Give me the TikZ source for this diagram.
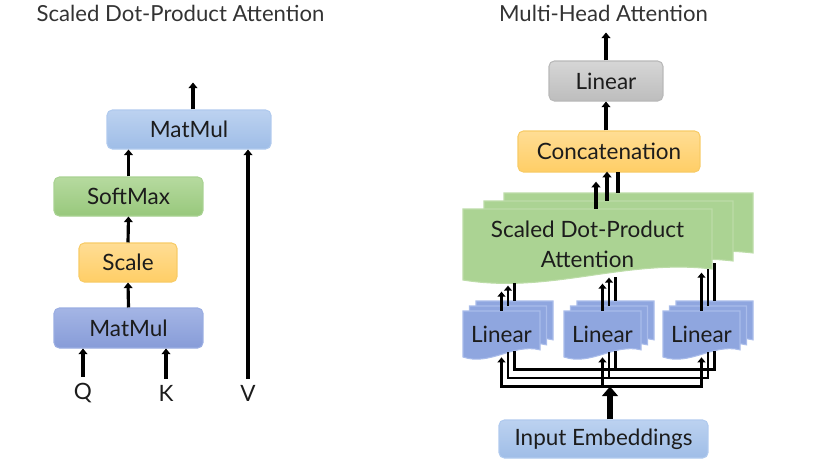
\documentclass[tikz,border=0pt]{standalone}
\usepackage{fontspec}
\setmainfont{Lato}
\usepackage{xcolor}
\usepackage{tikz}
\usetikzlibrary{arrows.meta,calc}
\definecolor{mblueT}{HTML}{BCD2F0}
\definecolor{mblueB}{HTML}{9FBDE7}
\definecolor{mblueD}{HTML}{B0CAEE}
\definecolor{sgreenT}{HTML}{B6DA9F}
\definecolor{sgreenB}{HTML}{98C87C}
\definecolor{sgreenD}{HTML}{A9D292}
\definecolor{syellowT}{HTML}{FFDD94}
\definecolor{syellowB}{HTML}{FFCE66}
\definecolor{syellowD}{HTML}{F8CB66}
\definecolor{mpurpleT}{HTML}{A4B5E5}
\definecolor{mpurpleB}{HTML}{879CD8}
\definecolor{mpurpleD}{HTML}{9AADE2}
\definecolor{lgrayT}{HTML}{D6D6D6}
\definecolor{lgrayB}{HTML}{BDBDBD}
\definecolor{lgrayD}{HTML}{B8B8B8}
\definecolor{stackblue}{HTML}{8FA6DF}
\definecolor{stackblueD}{HTML}{A9BCEA}
\definecolor{stackgreen}{HTML}{ABD393}
\definecolor{stackgreenD}{HTML}{BCDCA8}
\definecolor{inkdark}{HTML}{1C1C1C}
\newcommand{\boxfont}{\fontsize{12.8}{17}\selectfont}
\newcommand{\titlefont}{\fontsize{12.6}{14}\selectfont}
% sheet with a wavy lower edge: x, y, width, height, style
\newcommand{\wavesheet}[5]{%
  \pgfmathsetmacro\sxr{#1+#3}\pgfmathsetmacro\syb{#2+#4}%
  \pgfmathsetmacro\syr{#2+0.845*#4}%
  \pgfmathsetmacro\scax{#1+0.65*#3}\pgfmathsetmacro\scay{#2+0.7*#4}%
  \pgfmathsetmacro\scbx{#1+0.35*#3}\pgfmathsetmacro\scby{#2+1.2*#4}%
  \filldraw[#5] (#1,#2) -- (\sxr,#2) -- (\sxr,\syr) .. controls (\scax,\scay) and (\scbx,\scby) .. (#1,\syb) -- cycle;}

\begin{document}
\begin{tikzpicture}[x=0.02cm, y=-0.02cm,
    box/.style={rectangle, rounded corners=3pt, line width=0.6pt, minimum height=0.78cm, font=\boxfont, text=inkdark},
    ttl/.style={font=\titlefont, text=inkdark!90},
    lbl/.style={font=\boxfont, text=inkdark},
    sheettxt/.style={inner sep=0pt, align=center, font=\boxfont, text=inkdark},
    greensheet/.style={fill=stackgreen, draw=stackgreenD, line width=0.6pt},
    bluesheet/.style={fill=stackblue, draw=stackblueD, line width=0.6pt},
    arr/.style={-{Triangle[length=3.2pt,width=5pt]}, line width=1.8pt},
    thinarr/.style={-{Triangle[length=2.8pt,width=4.4pt]}, line width=1.4pt},
    bus/.style={line width=1.4pt},
    fatarr/.style={-{Triangle[length=5.5pt,width=9pt]}, line width=3.6pt}
]
    \useasboundingbox (0,0) rectangle (822,471);

    % Scaled Dot-Product Attention
    \node[ttl] (t1) at (180.5,13) {Scaled Dot-Product Attention};
    \node[box, top color=mblueT, bottom color=mblueB, draw=mblueD, minimum width=3.28cm] (mm2) at (189,129.5) {MatMul};
    \node[box, top color=sgreenT, bottom color=sgreenB, draw=sgreenD, minimum width=2.98cm] (sm) at (128.5,196.5) {SoftMax};
    \node[box, top color=syellowT, bottom color=syellowB, draw=syellowD, minimum width=1.96cm] (sc) at (128,262.5) {Scale};
    \node[box, top color=mpurpleT, bottom color=mpurpleB, draw=mpurpleD, minimum width=2.98cm, minimum height=0.8cm] (mm1) at (128.5,328) {MatMul};
    \node[lbl] (q) at (83,393) {Q};
    \node[lbl] (k) at (166,393) {K};
    \node[lbl] (v) at (248,393) {V};

    \draw[arr] ($(mm2.north)+(4,0)$) -- ++(0,-27);
    \draw[arr] (sm.north) -- (sm.north |- mm2.south);
    \draw[arr] (sc.north) -- (sm.south);
    \draw[arr] (mm1.north) -- (sc.south);
    \draw[arr] (q.north) -- (q.north |- mm1.south);
    \draw[arr] (k.north) -- (k.north |- mm1.south);
    \draw[arr] (v.north) -- (v.north |- mm2.south);

    % Multi-Head Attention
    \node[ttl] (t2) at (603.5,13) {Multi-Head Attention};
    \node[box, top color=lgrayT, bottom color=lgrayB, draw=lgrayD, minimum width=2.28cm, minimum height=0.8cm] (lin) at (606,81) {Linear};
    \node[box, top color=syellowT, bottom color=syellowB, draw=syellowD, minimum width=3.64cm, minimum height=0.82cm] (cat) at (609,151.5) {Concatenation};

    \wavesheet{504}{193}{249}{71}{greensheet}
    \wavesheet{484}{201}{249}{71}{greensheet}
    \wavesheet{463}{209}{249}{71}{greensheet}
    \node[sheettxt, minimum width=4.98cm, minimum height=1.42cm] (sdpa) at (587.5,244.5) {Scaled Dot-Product\\Attention};

    \wavesheet{476}{301}{77}{46}{bluesheet}
    \wavesheet{469.5}{306}{77}{46}{bluesheet}
    \wavesheet{463}{311}{77}{46}{bluesheet}
    \wavesheet{577}{301}{77}{46}{bluesheet}
    \wavesheet{570.5}{306}{77}{46}{bluesheet}
    \wavesheet{564}{311}{77}{46}{bluesheet}
    \wavesheet{676}{301}{77}{46}{bluesheet}
    \wavesheet{669.5}{306}{77}{46}{bluesheet}
    \wavesheet{663}{311}{77}{46}{bluesheet}
    \node[sheettxt, minimum width=1.54cm, minimum height=0.92cm] (lin1) at (501.5,334) {Linear};
    \node[sheettxt, minimum width=1.54cm, minimum height=0.92cm] (lin2) at (602.5,334) {Linear};
    \node[sheettxt, minimum width=1.54cm, minimum height=0.92cm] (lin3) at (701.5,334) {Linear};

    \node[box, top color=mblueT, bottom color=mblueB, draw=mblueD, minimum width=4.18cm, minimum height=0.76cm] (emb) at (603.5,439) {Input Embeddings};

    \draw[arr] (lin.north) -- ++(0,-28);
    \draw[arr] (cat.north -| lin.north) -- (lin.south);

    % heads into the concatenation
    \draw[arr] ($(sdpa.north)+(8.5,0)$) -- ++(0,-27);
    \draw[arr] ($(sdpa.north)+(19.5,-8)$) -- ++(0,-29);
    \draw[line width=1.8pt] ($(sdpa.north)+(30.5,-16)$) -- ++(0,-21);

    % linear layers into the attention heads
    \draw[thinarr] (lin1.north) -- ++(0,-19);
    \draw[thinarr] ($(lin1.north)+(6.5,-5)$) -- ++(0,-20);
    \draw[bus] ($(lin1.north)+(13,-10)$) -- ++(0,-18);
    \draw[thinarr] (lin2.north) -- ++(0,-27);
    \draw[thinarr] ($(lin2.north)+(6.5,-5)$) -- ++(0,-28);
    \draw[bus] ($(lin2.north)+(13,-10)$) -- ++(0,-24);
    \draw[thinarr] (lin3.north) -- ++(0,-38);
    \draw[bus] ($(lin3.north)+(6.5,-5)$) -- ++(0,-37);
    \draw[bus] ($(lin3.north)+(13,-10)$) -- ++(0,-38);

    % embeddings fanned out to the linear layers
    \draw[bus] ($(lin1.south)+(13,-6)$) -- ($(lin1.south)+(13,12)$) -- ($(lin3.south)+(13,12)$) -- ($(lin3.south)+(13,-6)$);
    \draw[bus] ($(lin2.south)+(13,-6)$) -- ($(lin2.south)+(13,12)$);
    \draw[bus] ($(lin1.south)+(6.5,-5)$) -- ($(lin1.south)+(6.5,20.5)$) -- ($(lin3.south)+(6.5,20.5)$) -- ($(lin3.south)+(6.5,-5)$);
    \draw[bus] ($(lin2.south)+(6.5,-5)$) -- ($(lin2.south)+(6.5,20.5)$);
    \draw[thinarr, {Triangle[length=2.8pt,width=4.4pt]}-{Triangle[length=2.8pt,width=4.4pt]}] (lin1.south) -- ($(lin1.south)+(0,29)$) -- ($(lin3.south)+(0,29)$) -- (lin3.south);
    \draw[thinarr] ($(lin2.south)+(0,29)$) -- (lin2.south);
    \draw[fatarr] ($(emb.north)+(6.5,0)$) -- ++(0,-33);
\end{tikzpicture}
\end{document}
